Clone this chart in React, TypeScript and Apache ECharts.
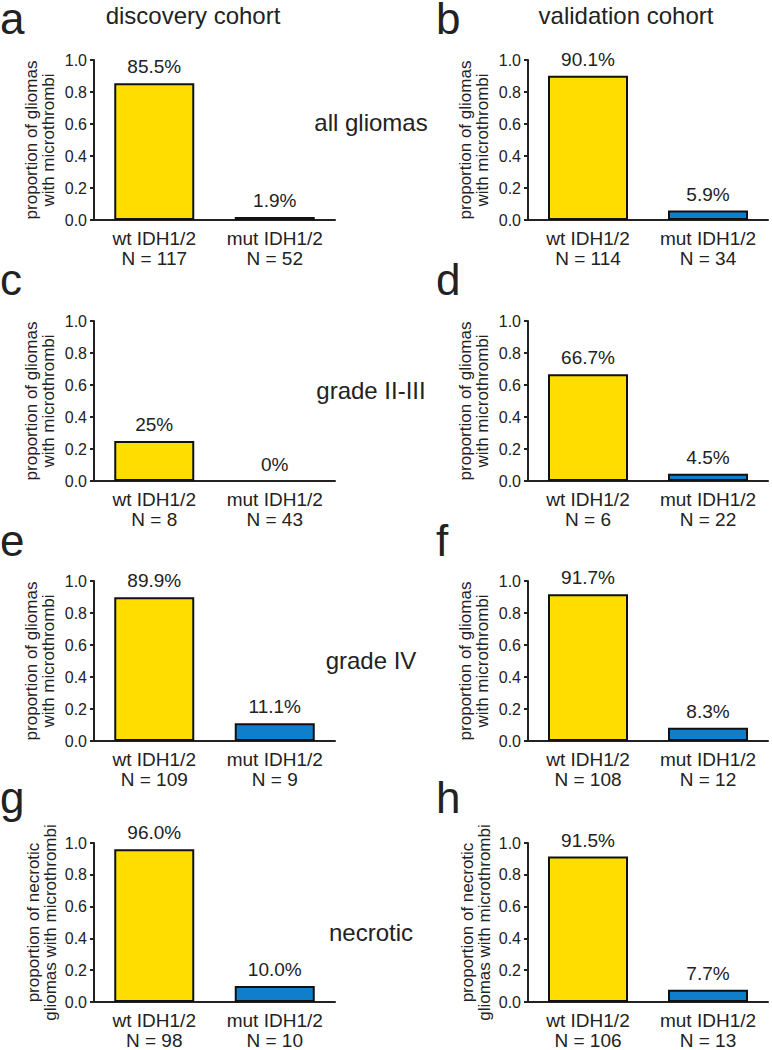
import React, { useEffect, useRef } from "react";
import * as echarts from "echarts";

const panelLetters = ["a", "b", "c", "d", "e", "f", "g", "h"];
const categoriesBase = ["wt IDH1/2", "mut IDH1/2"];
const wtValues = [0.855, 0.901, 0.25, 0.667, 0.899, 0.917, 0.96, 0.915];
const mutValues = [0.019, 0.059, 0, 0.045, 0.111, 0.083, 0.1, 0.077];
const wtLabels = ["85.5%", "90.1%", "25%", "66.7%", "89.9%", "91.7%", "96.0%", "91.5%"];
const mutLabels = ["1.9%", "5.9%", "0%", "4.5%", "11.1%", "8.3%", "10.0%", "7.7%"];
const wtN = [117, 114, 8, 6, 109, 108, 98, 106];
const mutN = [52, 34, 43, 22, 9, 12, 10, 13];
const columnTitles = ["discovery cohort", "validation cohort"];
const rowLabels = ["all gliomas", "grade II-III", "grade IV", "necrotic"];
const yTitles = [
  "proportion of gliomas\nwith microthrombi",
  "proportion of gliomas\nwith microthrombi",
  "proportion of gliomas\nwith microthrombi",
  "proportion of necrotic\ngliomas with microthrombi",
];
const yMin = 0;
const yMax = 1;
const yInterval = 0.2;

const FONT = "'Liberation Sans', Arial, sans-serif";
const TEXT = "#222";
const YELLOW = "#FFDD00";
const BLUE = "#0F7FCC";

const colLeft = [94, 528];
const colWidth = [241, 240];
const rowTop = [60, 321, 581, 843];
const plotH = 160;
const letterX = [0, 436];
const letterY = [18, 279, 540, 797];
const rowLabelY = [122, 390, 660, 932];
const yNameGap = [37, 37, 37, 35];

export default function App() {
  const ref = useRef<HTMLDivElement>(null);
  useEffect(() => {
    if (!ref.current) return;
    const chart = echarts.init(ref.current, null, { renderer: "svg" });
    const grids: any[] = [];
    const xAxes: any[] = [];
    const yAxes: any[] = [];
    const series: any[] = [];
    panelLetters.forEach((_, i) => {
      const col = i % 2;
      const row = Math.floor(i / 2);
      grids.push({ left: colLeft[col], top: rowTop[row], width: colWidth[col], height: plotH });
      xAxes.push({
        type: "category",
        gridIndex: i,
        data: [
          `${categoriesBase[0]}\nN = ${wtN[i]}`,
          `${categoriesBase[1]}\nN = ${mutN[i]}`,
        ],
        axisLine: { show: true, lineStyle: { color: TEXT, width: 2 } },
        axisTick: { show: false },
        axisLabel: {
          color: TEXT,
          fontFamily: FONT,
          fontSize: 19,
          lineHeight: 20,
          margin: 8,
          interval: 0,
        },
      });
      yAxes.push({
        type: "value",
        gridIndex: i,
        min: yMin,
        max: yMax,
        interval: yInterval,
        splitLine: { show: false },
        axisLine: { show: true, lineStyle: { color: TEXT, width: 2 } },
        axisTick: { show: true, length: 4, inside: false, lineStyle: { color: TEXT, width: 2 } },
        axisLabel: {
          color: TEXT,
          fontFamily: FONT,
          fontSize: 16,
          margin: 7,
          formatter: (v: number) => v.toFixed(1),
        },
        name: yTitles[row],
        nameLocation: "middle",
        nameRotate: 90,
        nameGap: yNameGap[row],
        nameTextStyle: {
          color: TEXT,
          fontFamily: FONT,
          fontSize: 17,
          lineHeight: 17,
        },
      });
      series.push({
        type: "bar",
        xAxisIndex: i,
        yAxisIndex: i,
        barWidth: 80,
        data: [
          { value: wtValues[i], itemStyle: { color: YELLOW } },
          { value: mutValues[i], itemStyle: { color: BLUE, borderWidth: mutValues[i] > 0 ? 2 : 0 } },
        ],
        itemStyle: { borderColor: "#111", borderWidth: 2 },
        label: {
          show: true,
          position: "top",
          distance: 7,
          color: TEXT,
          fontFamily: FONT,
          fontSize: 19,
          formatter: (p: any) => (p.dataIndex === 0 ? wtLabels[i] : mutLabels[i]),
        },
      });
    });

    const graphics: any[] = [];
    panelLetters.forEach((l, i) => {
      const col = i % 2;
      const row = Math.floor(i / 2);
      graphics.push({
        type: "text",
        x: letterX[col],
        y: letterY[row],
        style: {
          text: l,
          fill: TEXT,
          font: `44px ${FONT}`,
          lineHeight: 34,
          textAlign: "left",
          textVerticalAlign: "middle",
        },
      });
    });
    columnTitles.forEach((t, c) => {
      graphics.push({
        type: "text",
        x: c === 0 ? 193 : 626,
        y: 15,
        style: {
          text: t,
          fill: TEXT,
          font: `24px ${FONT}`,
          textAlign: "center",
          textVerticalAlign: "middle",
        },
      });
    });
    rowLabels.forEach((t, r) => {
      graphics.push({
        type: "text",
        x: 371,
        y: rowLabelY[r],
        style: {
          text: t,
          fill: TEXT,
          font: `24px ${FONT}`,
          textAlign: "center",
          textVerticalAlign: "middle",
        },
      });
    });

    chart.setOption({
      animation: false,
      backgroundColor: "#fff",
      grid: grids,
      xAxis: xAxes,
      yAxis: yAxes,
      series,
      graphic: graphics,
    });
    return () => chart.dispose();
  }, []);
  return (
    <div
      ref={ref}
      style={{ position: "absolute", left: 0, top: 0, width: 772, height: 1050 }}
    />
  );
}
